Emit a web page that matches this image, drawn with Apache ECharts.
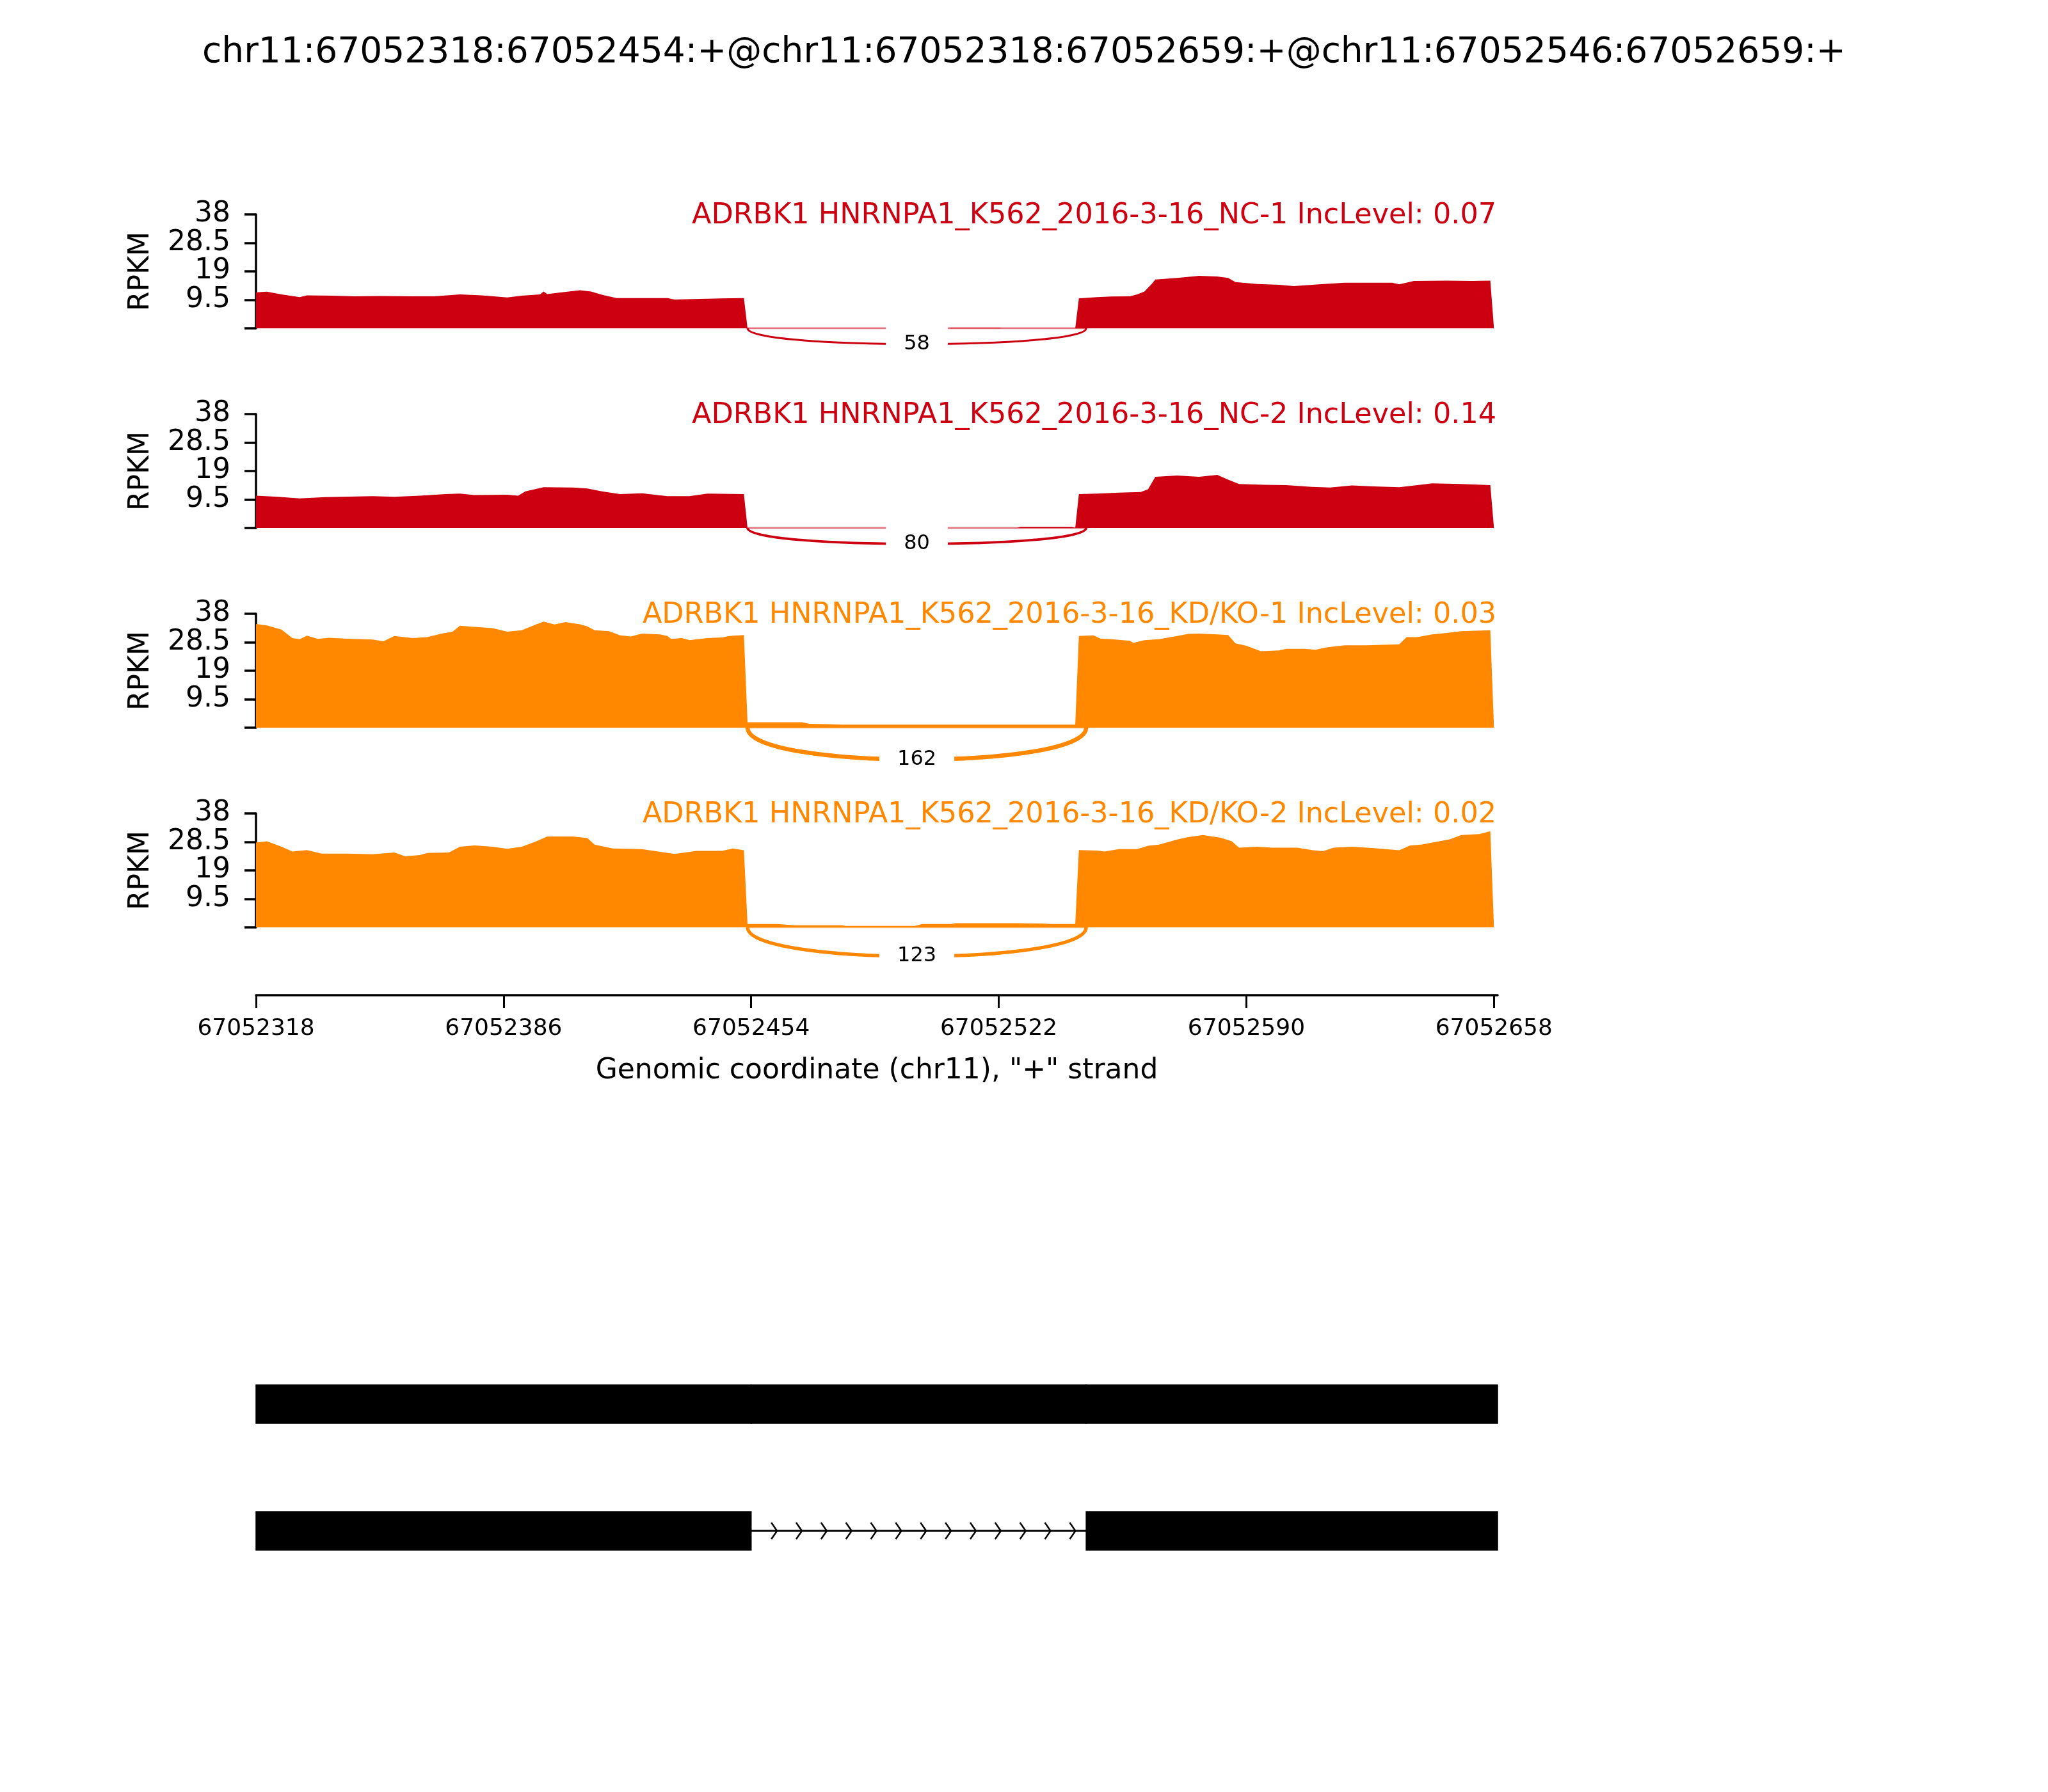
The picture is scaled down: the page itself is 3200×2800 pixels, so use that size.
<!DOCTYPE html>
<html><head><meta charset="utf-8">
<script src="https://cdn.jsdelivr.net/npm/echarts@6/dist/echarts.min.js"></script>
<style>html,body{margin:0;padding:0;background:#fff}#c{width:3200px;height:2800px}</style>
</head><body><div id="c"></div>
<script>
// ---------- data ----------
const regionStart = 67052318;          // genomic coordinate of offset 0
const regionLength = 341;              // 67052318 .. 67052659
const mainTitle = 'chr11:67052318:67052454:+@chr11:67052318:67052659:+@chr11:67052546:67052659:+';
const sampleLabels = ['NC-1', 'NC-2', 'KD/KO-1', 'KD/KO-2'];
const sampleGroups = ['NC', 'NC', 'KD', 'KD'];
const incLevels = ['0.07', '0.14', '0.03', '0.02'];
const junctionCounts = [58, 80, 162, 123];
const junctionSpan = [135, 228];       // offsets of the junction ends
const xTickValues = [0, 68, 136, 204, 272, 340];
const yTickValues = [0, 9.5, 19, 28.5, 38];

// coverage (RPKM) per sample: offsets from regionStart and values
const nc1Pos = [0,3,7,12,14,21,27,34,43,49,56,62,69,73,78,79,80,84,89,92,95,99,104,113,115,122,128,134,135,190,191,204,205,225,226,231,235,240,242,244,246,247,253,259,264,267,269,275,281,285,292,299,305,312,314,318,327,334,339,340];
const nc1Val = [12.0,12.2,11.3,10.4,11.0,10.9,10.7,10.8,10.7,10.7,11.3,11.0,10.3,10.9,11.3,12.3,11.4,12.0,12.7,12.3,11.2,10.1,10.1,10.1,9.6,9.8,10.0,10.1,0,0,0.2,0.2,0,0,10.0,10.4,10.6,10.7,11.3,12.3,14.8,16.3,16.8,17.5,17.3,16.8,15.4,14.8,14.5,14.1,14.7,15.2,15.2,15.2,14.7,15.8,15.9,15.8,15.9,0];

const nc2Pos = [0,6,12,19,32,38,45,52,56,60,69,72,74,79,87,91,95,100,106,113,119,124,134,135,209,210,224,225,226,231,237,243,245,247,253,259,264,267,270,277,283,290,295,301,307,314,319,323,331,339,340];
const nc2Val = [10.8,10.4,9.9,10.3,10.6,10.4,10.8,11.3,11.5,11.0,11.1,10.8,12.2,13.6,13.5,13.2,12.2,11.3,11.6,10.6,10.6,11.5,11.3,0,0,0.35,0.35,0,11.3,11.5,11.8,12.0,12.9,17.1,17.5,17.1,17.7,16.1,14.7,14.4,14.3,13.7,13.5,14.2,13.9,13.6,14.3,14.9,14.7,14.3,0];

const kd1Pos = [0,3,7,10,12,14,17,20,25,32,35,38,43,47,51,54,56,60,65,69,73,77,79,82,85,89,91,93,97,100,103,106,111,113,114,117,119,124,128,130,134,135,150,152,157,161,225,226,230,232,235,240,241,244,248,253,256,259,264,267,269,272,276,281,283,288,291,294,299,305,314,316,319,323,327,331,339,340];
const kd1Val = [34.6,34.1,32.7,29.9,29.5,30.7,29.6,30.0,29.7,29.4,28.8,30.6,29.9,30.2,31.4,32.0,34.0,33.6,33.2,32.0,32.5,34.5,35.4,34.4,35.2,34.5,33.8,32.5,32.2,30.8,30.4,31.4,31.1,30.6,29.6,29.9,29.2,29.9,30.1,30.6,30.9,1.8,1.8,1.3,1.2,1.0,1.0,30.6,30.8,29.7,29.5,29.0,28.3,29.2,29.5,30.6,31.3,31.4,31.1,30.9,28.1,27.3,25.5,25.8,26.3,26.3,26.0,26.8,27.5,27.5,27.8,30.2,30.2,31.1,31.6,32.2,32.5,0];

const kd2Pos = [0,3,7,10,14,18,25,32,38,41,45,47,53,56,60,65,69,73,77,80,87,91,93,98,106,111,115,121,128,131,134,135,143,148,161,162,181,183,191,192,209,216,218,225,226,231,233,237,242,245,248,253,256,260,265,268,270,275,279,286,290,293,296,301,307,314,317,320,325,328,331,336,339,340];
const kd2Val = [28.3,28.7,26.9,25.3,25.8,24.6,24.6,24.4,25.0,23.7,24.1,24.8,25.0,26.9,27.3,26.9,26.2,26.9,28.7,30.3,30.3,29.8,27.6,26.3,26.1,25.2,24.5,25.5,25.5,26.3,25.7,1.1,1.1,0.7,0.7,0.5,0.5,1.1,1.1,1.4,1.4,1.3,1.1,1.1,25.8,25.6,25.3,26.1,26.1,27.2,27.6,29.3,30.1,30.8,29.9,28.7,26.6,26.9,26.6,26.6,25.8,25.4,26.6,26.9,26.4,25.7,27.3,27.6,28.7,29.4,30.8,31.1,32.1,0];

// gene model: exon [start, end] offsets per transcript
const tx1Exons = [[0, 136], [136, 228], [228, 341]];
const tx2Exons = [[0, 136], [228, 341]];
const tx2Introns = [[136, 228]];

// ---------- layout / style ----------
const FONT = '"DejaVu Sans", "Liberation Sans", sans-serif';
const groupColor = { NC: '#CC0011', KD: '#FF8800' };
const coverage = [[nc1Pos, nc1Val], [nc2Pos, nc2Val], [kd1Pos, kd1Val], [kd2Pos, kd2Val]];
const panelTops = [335, 647, 959, 1271];
const panelH = 178;
const GL = 400, GR = 860;

const grids = [], xAxes = [], yAxes = [], series = [], titles = [];
titles.push({ text: mainTitle, left: 'center', top: 50,
  textStyle: { fontFamily: FONT, fontSize: 55, fontWeight: 'normal', color: '#000' } });

coverage.forEach(([pos, val], i) => {
  const color = groupColor[sampleGroups[i]];
  grids.push({ left: GL, right: GR, top: panelTops[i], height: panelH });
  xAxes.push({ gridIndex: i, type: 'value', min: 0, max: regionLength, show: false });
  yAxes.push({
    gridIndex: i, type: 'value', min: 0, max: 38, interval: 9.5,
    name: 'RPKM', nameLocation: 'middle', nameGap: 157, nameRotate: 90,
    nameTextStyle: { fontFamily: FONT, fontSize: 44, color: '#000' },
    axisLine: { show: true, lineStyle: { color: '#000', width: 3.5 } },
    axisTick: { show: true, length: 18, lineStyle: { color: '#000', width: 3.5 } },
    axisLabel: { fontFamily: FONT, fontSize: 44, color: '#000', margin: 40,
      formatter: v => (v === 0 ? '' : String(v)) },
    splitLine: { show: false }
  });
  const data = pos.map((p, k) => [p, val[k]]);
  series.push({
    type: 'line', xAxisIndex: i, yAxisIndex: i, data, showSymbol: false, silent: true,
    lineStyle: { width: 0 }, areaStyle: { color, opacity: 1 }, z: 2, animation: false
  });
  series.push({
    type: 'line', xAxisIndex: i, yAxisIndex: i, showSymbol: false, silent: true,
    data: [[junctionSpan[0], 0], [junctionSpan[1], 0]],
    lineStyle: { color, width: 3, opacity: 0.55 }, z: 3, animation: false
  });
  const maxVal = Math.max(...val);
  const count = junctionCounts[i];
  series.push({
    type: 'custom', xAxisIndex: i, yAxisIndex: i, z: 5, silent: true, animation: false,
    data: [[(junctionSpan[0] + junctionSpan[1]) / 2, count]],
    renderItem: (params, api) => {
      const depth = 0.3 * maxVal;
      const p0 = api.coord([junctionSpan[0], 0]);
      const p3 = api.coord([junctionSpan[1], 0]);
      const c = api.coord([junctionSpan[0], -depth * 4 / 3]);
      const mid = api.coord([(junctionSpan[0] + junctionSpan[1]) / 2, -depth]);
      return { type: 'group', children: [
        { type: 'bezierCurve',
          shape: { x1: p0[0], y1: p0[1], x2: p3[0], y2: p3[1], cpx1: p0[0], cpy1: c[1], cpx2: p3[0], cpy2: c[1] },
          style: { stroke: color, lineWidth: 1.2 + count / 30, fill: 'none' } },
        { type: 'text', x: mid[0], y: mid[1], z2: 10,
          style: { text: String(count), fill: '#000', fontSize: 32, fontFamily: FONT,
            align: 'center', verticalAlign: 'middle', backgroundColor: '#fff', padding: [14, 28] } }
      ] };
    }
  });
  titles.push({
    text: 'ADRBK1 HNRNPA1_K562_2016-3-16_' + sampleLabels[i] + ' IncLevel: ' + incLevels[i],
    right: 857, top: panelTops[i] - 25,
    textStyle: { fontFamily: FONT, fontSize: 44.5, fontWeight: 'normal', color }
  });
});

// shared genomic x axis
grids.push({ left: GL, right: GR, top: 1500, height: 55 });
xAxes.push({
  gridIndex: 4, type: 'value', min: 0, max: regionLength, position: 'bottom',
  name: 'Genomic coordinate (chr11), "+" strand', nameLocation: 'middle', nameGap: 97,
  nameTextStyle: { fontFamily: FONT, fontSize: 44, color: '#000' },
  axisLine: { show: true, lineStyle: { color: '#000', width: 3.5 } },
  axisTick: { show: true, length: 20, customValues: xTickValues, lineStyle: { color: '#000', width: 3 } },
  axisLabel: { customValues: xTickValues, fontFamily: FONT, fontSize: 36, color: '#000', margin: 35,
    formatter: v => String(regionStart + v) },
  splitLine: { show: false }
});
yAxes.push({ gridIndex: 4, type: 'value', show: false });

// gene model
grids.push({ left: GL, right: GR, top: 2095, height: 396 });
xAxes.push({ gridIndex: 5, type: 'value', min: 0, max: regionLength, show: false });
yAxes.push({ gridIndex: 5, type: 'category', data: ['tx1', 'tx2'], inverse: true, show: false });

const exonData = tx1Exons.map(e => [e[0], e[1], 0]).concat(tx2Exons.map(e => [e[0], e[1], 1]));
series.push({
  type: 'custom', xAxisIndex: 5, yAxisIndex: 5, data: exonData, silent: true, animation: false,
  renderItem: (params, api) => {
    const s = api.coord([api.value(0), api.value(2)]);
    const e = api.coord([api.value(1), api.value(2)]);
    const h = api.size([0, 1])[1] * 0.303;
    return { type: 'rect', shape: { x: s[0], y: s[1] - h / 2, width: e[0] - s[0], height: h },
      style: { fill: '#000', stroke: '#000', lineWidth: 1.5 } };
  }
});
series.push({
  type: 'custom', xAxisIndex: 5, yAxisIndex: 5, data: tx2Introns.map(e => [e[0], e[1], 1]),
  silent: true, animation: false,
  renderItem: (params, api) => {
    const a = api.value(0), b = api.value(1), row = api.value(2);
    const s = api.coord([a, row]);
    const e = api.coord([b, row]);
    const children = [{ type: 'line', shape: { x1: s[0], y1: s[1], x2: e[0], y2: e[1] },
      style: { stroke: '#000', lineWidth: 3 } }];
    const n = 13, first = 7.1, step = 6.83;
    for (let k = 0; k < n; k++) {
      const tip = api.coord([a + first + k * step, row]);
      children.push({ type: 'polyline',
        shape: { points: [[tip[0] - 9, tip[1] - 13], [tip[0], tip[1]], [tip[0] - 9, tip[1] + 13]] },
        style: { stroke: '#000', lineWidth: 2.5, fill: 'none' } });
    }
    return { type: 'group', children };
  }
});

const chart = echarts.init(document.getElementById('c'), null, { renderer: 'canvas' });
chart.setOption({
  backgroundColor: '#fff', animation: false,
  title: titles, grid: grids, xAxis: xAxes, yAxis: yAxes, series
});
</script></body></html>
